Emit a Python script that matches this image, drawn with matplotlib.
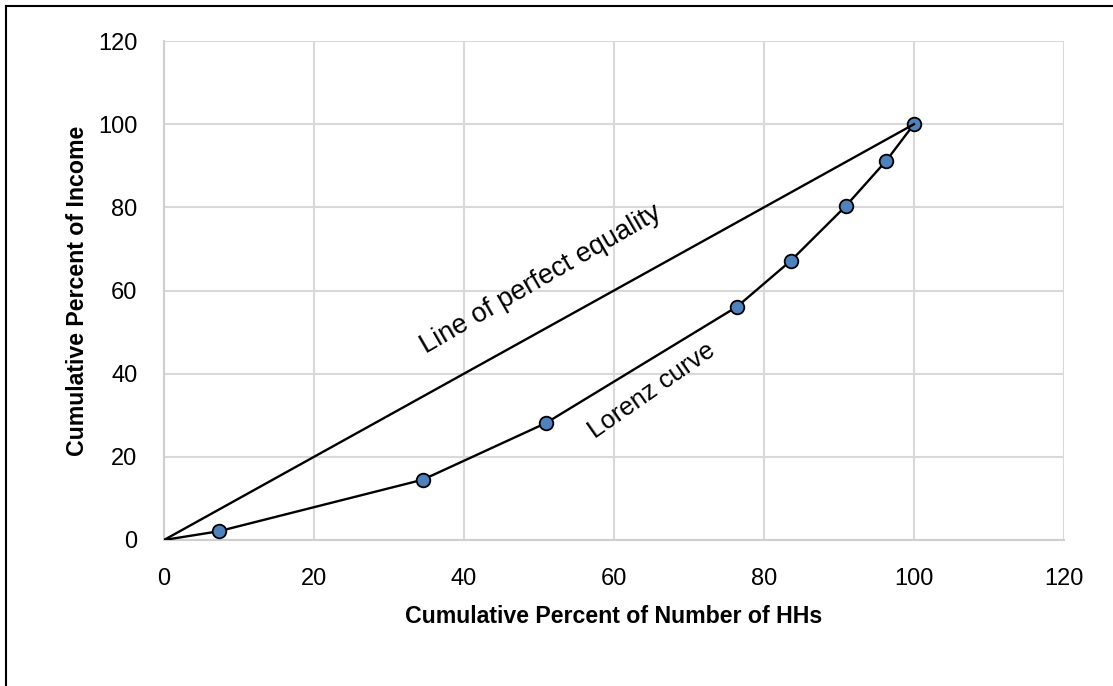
import matplotlib
matplotlib.use("Agg")
import matplotlib.pyplot as plt
from matplotlib.lines import Line2D

# cumulative shares (percent)
pct_households = [0, 7.3, 34.5, 50.9, 76.4, 83.6, 90.9, 96.3, 100]
pct_income = [0, 2.1, 14.5, 28.1, 56.1, 67.2, 80.3, 91.2, 100]
equality_x = [0, 100]
equality_y = [0, 100]
ticks = [0, 20, 40, 60, 80, 100, 120]

plt.rcParams['font.family'] = ['Liberation Sans', 'DejaVu Sans']

W, H = 1113, 686
fig = plt.figure(figsize=(W / 100, H / 100), dpi=100)
ax = fig.add_axes([164 / W, 1 - 540 / H, 900 / W, 499 / H])

grid_col = '#d9d9d9'
ax.set_xlim(0, 120)
ax.set_ylim(0, 120)
ax.set_xticks(ticks)
ax.set_yticks(ticks)
ax.grid(True, color=grid_col, linewidth=1.5)
ax.set_axisbelow(True)
for s in ['top', 'right']:
    ax.spines[s].set_visible(False)
for s in ['left', 'bottom']:
    ax.spines[s].set_color('#cfcfcf')
    ax.spines[s].set_linewidth(1.5)
ax.tick_params(length=0, labelsize=17, colors='black')
ax.tick_params(axis='y', pad=19)
ax.tick_params(axis='x', pad=20)

# lorenz curve with markers, origin point unmarked
ax.plot(pct_households, pct_income, color='black', linewidth=1.7, zorder=3)
ax.plot(pct_households[1:], pct_income[1:], linestyle='none', marker='o',
        markersize=9.8, markerfacecolor='#4f81bd', markeredgecolor='black',
        markeredgewidth=1.3, zorder=4)
ax.plot(equality_x, equality_y, color='black', linewidth=1.7, zorder=5)

ax.text(50.3, 62.7, 'Line of perfect equality', rotation=30, fontsize=19.5,
        ha='center', va='center', rotation_mode='anchor')
ax.text(65.0, 36.0, 'Lorenz curve', rotation=35, fontsize=18.5,
        ha='center', va='center', rotation_mode='anchor')

ax.set_xlabel('Cumulative Percent of Number of HHs', fontsize=16.7,
              fontweight='bold', labelpad=11)
ax.set_ylabel('Cumulative Percent of Income', fontsize=16.7,
              fontweight='bold', labelpad=7)

# chart frame, cropped on right/bottom
fig.add_artist(Line2D([6 / W, 6 / W], [0, 1 - 6 / H], color='black',
                      linewidth=1.5, transform=fig.transFigure))
fig.add_artist(Line2D([6 / W, 1], [1 - 6 / H, 1 - 6 / H], color='black',
                      linewidth=1.5, transform=fig.transFigure))

fig.savefig('out.png', dpi=100)
